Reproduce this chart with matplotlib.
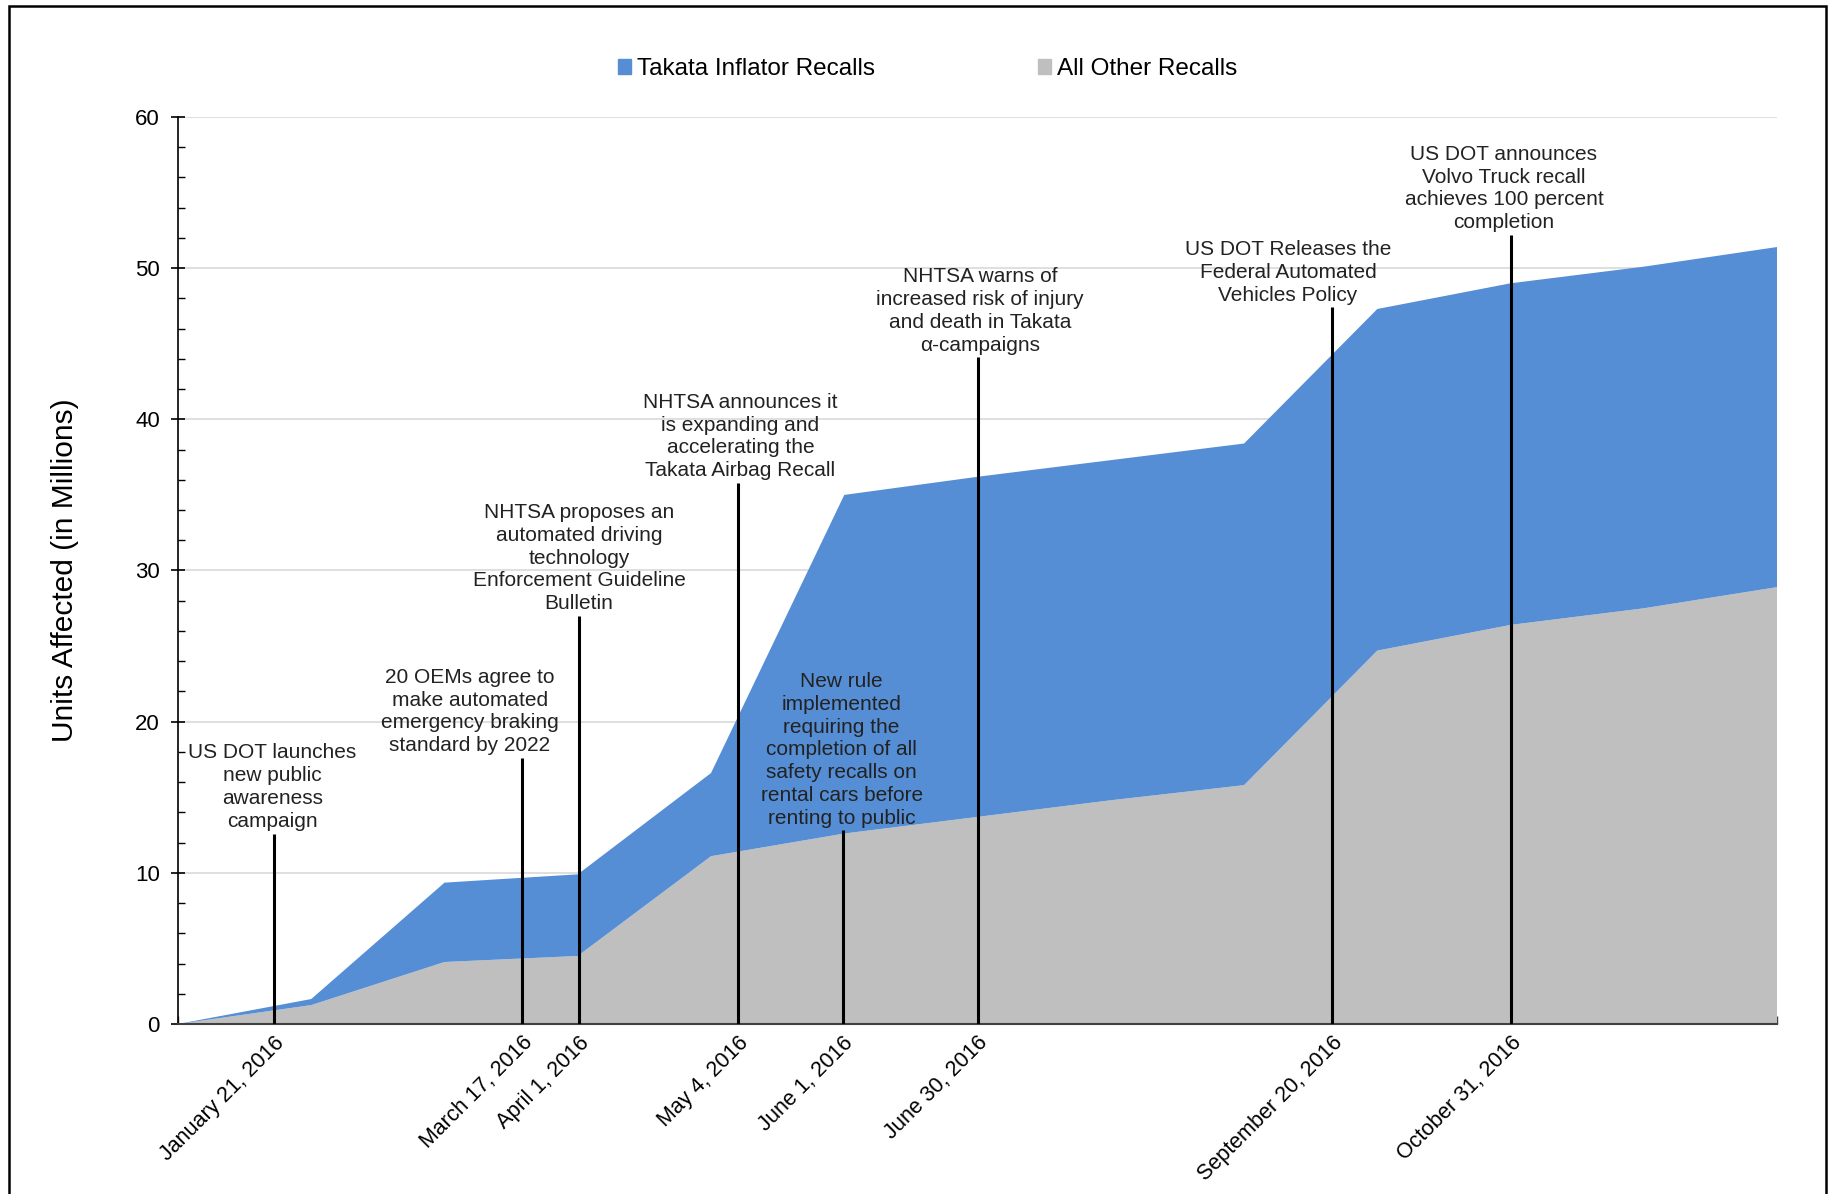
import matplotlib
matplotlib.use("Agg")
import matplotlib.pyplot as plt
from matplotlib.patches import Rectangle, Patch

plt.rcParams['font.family'] = ['Liberation Sans', 'DejaVu Sans']

# month starts Jan 2016 .. Jan 2017 (x = months since Jan 1, 2016)
month_pos = list(range(13))
other_recalls = [0, 1.25, 4.1, 4.5, 11.1, 12.6, 13.7, 14.8, 15.8, 24.7, 26.4, 27.5, 28.9]
total_recalls = [0, 1.65, 9.35, 9.9, 16.6, 35.0, 36.2, 37.3, 38.4, 47.3, 49.0, 50.1, 51.4]
takata_recalls = [t - o for t, o in zip(total_recalls, other_recalls)]

# events: position (months since Jan 1), height of marker line, text position
event_dates = ["January 21, 2016", "March 17, 2016", "April 1, 2016", "May 4, 2016",
               "June 1, 2016", "June 30, 2016", "September 20, 2016", "October 31, 2016"]
event_x = [0.72, 2.585, 3.01, 4.2, 4.99, 6.0, 8.66, 10.0]
event_top = [12.6, 17.6, 27.0, 35.8, 12.8, 44.1, 47.4, 52.2]
event_text_x = [0.71, 2.19, 3.01, 4.22, 4.98, 6.02, 8.33, 9.95]
event_text = [
    "US DOT launches\nnew public\nawareness\ncampaign",
    "20 OEMs agree to\nmake automated\nemergency braking\nstandard by 2022",
    "NHTSA proposes an\nautomated driving\ntechnology\nEnforcement Guideline\nBulletin",
    "NHTSA announces it\nis expanding and\naccelerating the\nTakata Airbag Recall",
    "New rule\nimplemented\nrequiring the\ncompletion of all\nsafety recalls on\nrental cars before\nrenting to public",
    "NHTSA warns of\nincreased risk of injury\nand death in Takata\n\u03b1-campaigns",
    "US DOT Releases the\nFederal Automated\nVehicles Policy",
    "US DOT announces\nVolvo Truck recall\nachieves 100 percent\ncompletion",
]

blue = '#558ED5'
gray = '#BFBFBF'

fig = plt.figure(figsize=(18.33, 11.94), dpi=100)
ax = fig.add_axes([0.0971, 0.1424, 0.8724, 0.7596])

ax.stackplot(month_pos, other_recalls, takata_recalls,
             colors=[gray, blue], labels=['All Other Recalls', 'Takata Inflator Recalls'],
             zorder=2)

# event marker lines + notes
for x, top, tx, txt in zip(event_x, event_top, event_text_x, event_text):
    ax.plot([x, x], [0, top], color='black', lw=2.2, zorder=4, solid_capstyle='butt')
    ax.annotate(txt, xy=(tx, top), xytext=(0, 2), textcoords='offset points',
                ha='center', va='bottom', multialignment='center',
                fontsize=15, color='#222222', linespacing=1.25, zorder=5)

ax.set_xlim(0, 12)
ax.set_ylim(0, 60)
ax.set_yticks(range(0, 61, 10))
ax.set_yticks(range(0, 61, 2), minor=True)
ax.tick_params(axis='y', which='major', direction='inout', length=10, width=1.2,
               labelsize=16, colors='black', pad=8)
ax.tick_params(axis='y', which='minor', direction='in', length=5, width=1.0)

ax.set_xticks(event_x)
ax.set_xticklabels(event_dates, rotation=45, ha='right', rotation_mode='anchor', fontsize=15.5)
ax.set_xticks(month_pos, minor=True)
ax.tick_params(axis='x', which='major', length=0, pad=6)
ax.tick_params(axis='x', which='minor', direction='in', length=6, width=1.0, colors='#444444')

ax.grid(axis='y', color='#D9D9D9', lw=1.2, zorder=0)
ax.set_axisbelow(True)
for s in ['top', 'right']:
    ax.spines[s].set_visible(False)
ax.spines['left'].set_color('black')
ax.spines['left'].set_linewidth(1.2)
ax.spines['bottom'].set_color('#404040')
ax.spines['bottom'].set_linewidth(1.5)

ax.set_ylabel('Units Affected (in Millions)', fontsize=21.5, labelpad=40)

handles = [Patch(color=blue), Patch(color=gray)]
ax.legend(handles, ['Takata Inflator Recalls', 'All Other Recalls'],
          loc='center', bbox_to_anchor=(0.506, 0.942), bbox_transform=fig.transFigure,
          ncol=2, frameon=False, fontsize=17.5, handlelength=0.55, handleheight=0.55,
          handletextpad=0.25, columnspacing=6.7)

# outer frame (open at the bottom)
fig.add_artist(Rectangle((9 / 1833, -0.05), 1817 / 1833, 1.045, transform=fig.transFigure,
                         fill=False, edgecolor='black', lw=1.8))

fig.savefig('out.png', dpi=100)
